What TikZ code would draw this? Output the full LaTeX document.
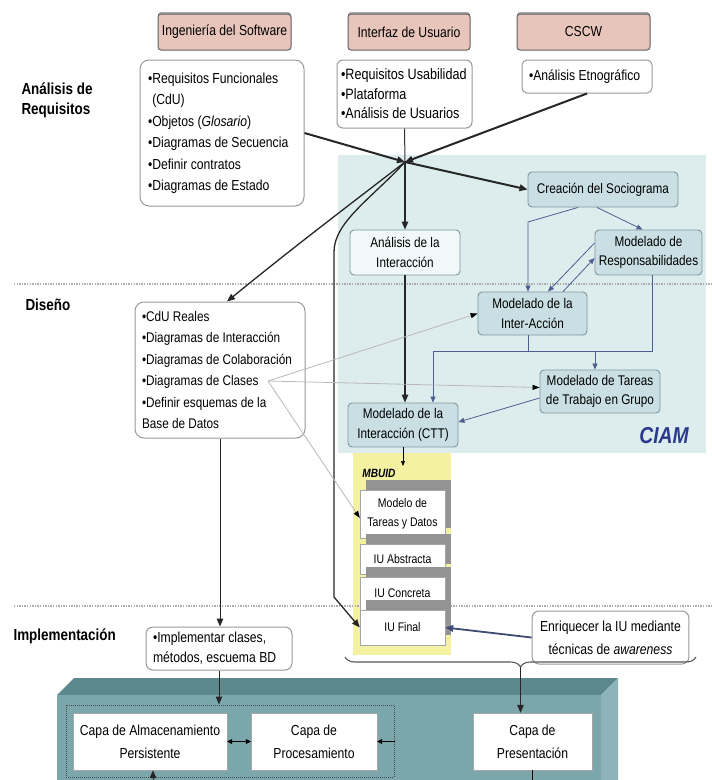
\documentclass[tikz,border=0pt]{standalone}
\usepackage{fontspec}
\setmainfont{Liberation Sans}[FakeStretch=0.84]
\usetikzlibrary{positioning,arrows.meta,shadows,decorations.pathreplacing}
\definecolor{rosacab}{RGB}{232,197,187}
\definecolor{fondociam}{RGB}{221,237,237}
\definecolor{nodociam}{RGB}{201,223,227}
\definecolor{bordeciam}{RGB}{126,150,160}
\definecolor{azulciam}{RGB}{43,58,140}
\definecolor{lineaazul}{RGB}{78,95,145}
\definecolor{amarillo}{RGB}{244,241,162}
\definecolor{bandafrente}{RGB}{122,166,172}
\definecolor{bandatapa}{RGB}{92,135,141}
\definecolor{bandalado}{RGB}{140,180,185}

\tikzset{
  cabecera/.style={draw=gray!75!black, line width=1pt, fill=rosacab, rounded corners=3pt,
    font=\fontsize{14.5}{16}\selectfont, minimum height=36, inner sep=2pt,
    drop shadow={shadow xshift=0pt, shadow yshift=2pt, fill=gray!70, opacity=1}},
  lista/.style={draw=gray!80, line width=1pt, fill=white, rounded corners=9pt, align=flush left,
    inner xsep=8pt, font=\fontsize{14.5}{21.5}\selectfont},
  ciam/.style={draw=bordeciam, line width=0.9pt, fill=nodociam, rounded corners=4pt,
    align=center, inner sep=1pt, font=\fontsize{14}{19.5}\selectfont},
  capa/.style={draw=gray!70, fill=white, align=center, inner sep=1pt,
    font=\fontsize{14.5}{23}\selectfont},
  etapa/.style={anchor=west, align=flush left, font=\bfseries\fontsize{16}{20}\selectfont},
  flecha/.style={->, line width=1.3pt, black!85},
  gruesa/.style={->, line width=2pt, black!85},
  azul/.style={-{Triangle[length=6pt,width=5pt]}, line width=0.8pt, lineaazul},
  gris/.style={-{Triangle[length=7pt,width=5pt,color=black]}, line width=0.8pt, gray!55},
  separador/.style={gray!65, line width=1.6pt, dash pattern=on 1.3pt off 1.3pt},
  llave/.style={gray!70!black, line width=1.1pt},
}

\begin{document}
\begin{tikzpicture}[x=1pt, y=-1pt, >={Triangle[length=8pt,width=6.5pt]}]
  \useasboundingbox (0,0) rectangle (712,780);
  \fill[white] (0,0) rectangle (712,780);

  % Fondos
  \fill[fondociam] (338,155) rectangle (706,453);
  \fill[amarillo] (353,453) rectangle (451,655);

  % Banda de capas
  \fill[bandatapa] (57,695) -- (601,695) -- (618,678) -- (74,678) -- cycle;
  \fill[bandalado] (601,695) -- (618,678) -- (618,780) -- (601,780) -- cycle;
  \fill[bandafrente] (57,695) rectangle (601,780);

  % Separadores
  \foreach \y in {284,606} {
    \draw[separador] (14,\y) -- (712,\y);
  }

  % Etapas
  \node[etapa] (lanalisis) at (18,100) {Análisis de\\Requisitos};
  \node[etapa] (ldiseno) at (22,305) {Diseño};
  \node[etapa] (limpl) at (10,636) {Implementación};

  % Cabeceras
  \node[cabecera, minimum width=133] (hsw) at (224.5,32) {Ingeniería del Software};
  \node[cabecera, minimum width=122] (hui) at (409,32) {Interfaz de Usuario};
  \node[cabecera, minimum width=133] (hcscw) at (583.5,32) {CSCW};

  % Requisitos
  \node[lista, text width=148, minimum height=146] (rsw) at (222,133)
    {•Requisitos Funcionales\\\phantom{•}(CdU)\\•Objetos (\textit{Glosario})\\•Diagramas de Secuencia\\•Definir contratos\\•Diagramas de Estado};
  \node[lista, text width=127, minimum height=68, rounded corners=6pt, inner xsep=4pt,
    font=\fontsize{15}{19.5}\selectfont] (rui) at (404.5,94)
    {•Requisitos Usabilidad\\•Plataforma\\•Análisis de Usuarios};
  \node[lista, text width=116, minimum height=33, rounded corners=5pt, inner xsep=7pt] (rcscw) at (587,76.5)
    {•Análisis Etnográfico};
  \coordinate (conv) at (405,162);

  % CIAM
  \node[ciam, minimum width=150, minimum height=35] (socio) at (603,189.5) {Creación del Sociograma};
  \node[ciam, fill=fondociam!40, minimum width=110, minimum height=45] (anint) at (405,252.5) {Análisis de la\\Interacción};
  \node[ciam, minimum width=107, minimum height=45] (resp) at (648.5,252.5) {Modelado de\\Responsabilidades};
  \node[ciam, minimum width=109, minimum height=43] (inter) at (532.5,313.5) {Modelado de la\\Inter-Acción};
  \node[ciam, minimum width=120, minimum height=43] (tareas) at (600,391.5) {Modelado de Tareas\\de Trabajo en Grupo};
  \node[ciam, minimum width=110, minimum height=44] (ctt) at (403,425) {Modelado de la\\Interacción (CTT)};
  \node[font=\bfseries\itshape\fontsize{23}{24}\selectfont, text=azulciam] (ciam) at (664,436) {CIAM};

  % Diseño
  \node[lista, text width=156, minimum height=136, inner xsep=7pt,
    font=\fontsize{14}{21.5}\selectfont] (cdu) at (220,370)
    {•CdU Reales\\•Diagramas de Interacción\\•Diagramas de Colaboración\\•Diagramas de Clases\\•Definir esquemas de la\\Base de Datos};
  \coordinate (clases) at (268,381);

  % MBUID
  \node[font=\bfseries\itshape\fontsize{12}{13}\selectfont] (mbuid) at (379,473) {MBUID};
  \foreach \nombre/\yc/\alto/\texto in {mtd/514/48/{Modelo de\\Tareas y Datos},
      iuabs/559/30/{IU Abstracta}, iuconc/593.5/33/{IU Concreta}, iufin/627.5/35/{IU Final}} {
    \node[capa, minimum width=85, minimum height=\alto, font=\fontsize{12.5}{19}\selectfont,
      drop shadow={shadow xshift=6pt, shadow yshift=10pt, fill=gray!85, opacity=1}]
      (\nombre) at (402.5,\yc) {\texto};
  }

  % Implementación
  \node[lista, text width=132, minimum height=43, rounded corners=7pt, inner xsep=7pt,
    font=\fontsize{14.5}{20}\selectfont] (impl) at (219,648.5) {•Implementar clases,\\métodos, escuema BD};
  \node[lista, align=center, minimum width=155, minimum height=53, rounded corners=7pt,
    font=\fontsize{14.5}{23}\selectfont] (enriq) at (610.5,637.5) {Enriquecer la IU mediante\\técnicas de \textit{awareness}};
  \node[draw=black!70, dash pattern=on 1pt off 1pt, line width=1pt, minimum width=328,
    minimum height=72, inner sep=0pt] (nucleo) at (230,741) {};
  \node[capa, minimum width=154, minimum height=57] (alm) at (150,741.5) {Capa de Almacenamiento\\Persistente};
  \node[capa, minimum width=126, minimum height=57] (proc) at (314,741.5) {Capa de\\Procesamiento};
  \node[capa, minimum width=119, minimum height=57] (pres) at (532.5,741.5) {Capa de\\Presentación};

  % Flujo de requisitos
  \draw[gruesa] (rsw.east) -- (conv);
  \draw[gruesa] (rcscw.south) -- (conv);
  \draw[line width=1pt, black!80] (rui.south) -- (conv);
  \draw[gruesa] (conv) -- (socio.west);
  \draw[flecha] (conv) -- (anint.north);
  \draw[flecha] (conv) .. controls (340,212) and (290,250) .. ([xshift=7pt]cdu.north);
  \draw[flecha] (conv) .. controls (372,198) and (334,222) .. (334,252) -- (334,597) -- (iufin.west);
  \draw[flecha] (anint.south) -- (anint.south |- ctt.north);

  % Conexiones CIAM
  \coordinate (ia) at (528,222);
  \coordinate (bus) at (433,351);
  \coordinate (tb) at (595,351);
  \draw[azul] ([xshift=-25pt]socio.south) -- (ia) -- (ia |- inter.north);
  \draw[azul] ([xshift=-6pt]socio.south) -- ([xshift=-6pt]resp.north);
  \draw[azul] ([yshift=9.5pt]resp.west) -- ([xshift=15.5pt]inter.north);
  \draw[azul] ([xshift=30.5pt]inter.north) -- ([yshift=-5.5pt]resp.west);
  \draw[azul] ([xshift=3.5pt]resp.south) |- (bus) -- (bus |- ctt.north);
  \draw[azul] (tb) -- (tb |- tareas.north);
  \draw[line width=0.8pt, lineaazul] (ia |- inter.south) -- (ia |- bus);
  \draw[azul] ([yshift=-6.5pt]tareas.west) -- ([yshift=3pt]ctt.east);

  % Diagramas de clases
  \draw[gris] (clases) -- (inter.west);
  \draw[gris] (clases) -- ([yshift=4pt]tareas.west);
  \draw[gris] (clases) -- ([yshift=-4pt]mtd.west);

  % Hacia MBUID
  \coordinate (mb) at (403,466);
  \draw[-{Triangle[length=5pt,width=4pt]}, line width=0.6pt] (ctt.south) -- (mb);

  % Implementación
  \draw[flecha, line width=1pt] (cdu.south) -- (cdu.south |- impl.north);
  \draw[flecha, line width=1pt] (impl.south) -- (impl.south |- nucleo.north);
  \draw[->, line width=1.8pt, lineaazul!80!black] (enriq.west) -- (iufin.east);
  \draw[llave, decorate, decoration={brace, amplitude=10pt}] (696,657) -- (345,657);
  \coordinate (punta) at (520.5,667);
  \draw[flecha, line width=1pt] (punta) -- (punta |- pres.north);
  \draw[{Triangle[length=5pt,width=5pt]}-{Triangle[length=5pt,width=5pt]}, line width=0.6pt] (alm.east) -- (proc.west);
  \draw[-{Triangle[length=5pt,width=5pt]}, line width=0.6pt] (nucleo.east |- proc.east) -- (proc.east);
  \coordinate (abajoA) at (153,780);
  \coordinate (abajoP) at (531,780);
  \draw[flecha, line width=1pt] (abajoA) -- (abajoA |- alm.south);
  \draw[line width=1pt] (pres.south) -- (pres.south |- abajoP);
\end{tikzpicture}
\end{document}
